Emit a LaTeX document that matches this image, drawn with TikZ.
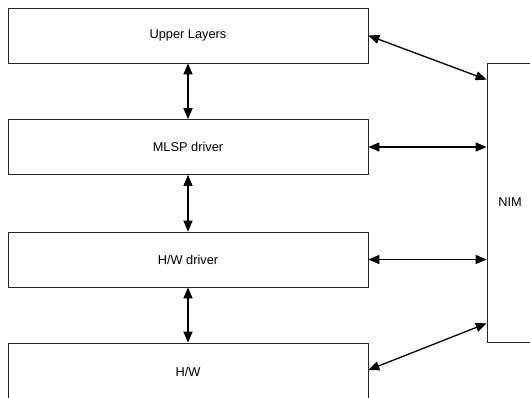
\documentclass[tikz,border=0pt]{standalone}
\usepackage{fontspec}
\setmainfont{Liberation Sans}
\usetikzlibrary{arrows.meta,calc}
\begin{document}
\begin{tikzpicture}[x=1pt,y=-1pt,
			layer/.style={draw=black!85, line width=0.7pt, minimum width=360pt, minimum height=55pt, inner sep=0pt, font=\fontsize{12.8}{15}\selectfont},
			link/.style={{Triangle[length=11pt,width=9pt]}-{Triangle[length=11pt,width=9pt]}, line width=1.3pt}]
			
			\useasboundingbox (0,0) rectangle (530,397);
			\clip (0,0) rectangle (530,397);
			
			\node[layer] (upper) at (188,35.5) {Upper Layers};
			\node[layer] (mlsp) at (188,147) {MLSP driver};
			\node[layer] (hwdrv) at (188,259.5) {H/W driver};
			\node[layer, minimum height=58pt] (hw) at (188,372) {H/W};
			\node[layer, minimum width=46pt, minimum height=279pt] (nim) at (510,202.5) {NIM};
			
			%stack
			\draw[link] (upper) -- (mlsp);
			\draw[link] (mlsp) -- (hwdrv);
			\draw[link] (hwdrv) -- (hw);
			
			%to NIM
			\draw[link] (upper.east) -- ($(nim.north west)+(0,17)$);
			\draw[link] (mlsp.east) -- (mlsp.east -| nim.west);
			\draw[link] (hwdrv.east) -- (hwdrv.east -| nim.west);
			\draw[link] ($(hw.east)+(0,-2)$) -- ($(nim.south west)+(0,-19)$);
\end{tikzpicture}
\end{document}
